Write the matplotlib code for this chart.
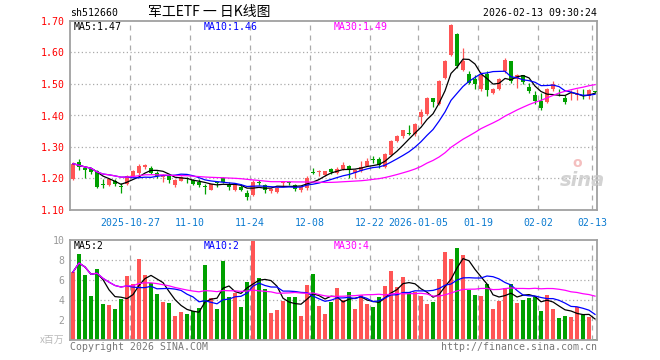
import matplotlib
matplotlib.use('Agg')
import matplotlib.pyplot as plt
import pandas as pd

# daily candles, 2025-10-13 .. 2026-02-13
opens = [1.200, 1.252, 1.232, 1.229, 1.223, 1.182, 1.178, 1.192, 1.175, 1.184,
         1.207, 1.216, 1.237, 1.234, 1.218, 1.205, 1.207, 1.178, 1.193, 1.200,
         1.194, 1.190, 1.175, 1.165, 1.187, 1.201, 1.184, 1.165, 1.174, 1.153,
         1.147, 1.188, 1.178, 1.160, 1.157, 1.185, 1.186, 1.178, 1.165, 1.170,
         1.219, 1.222, 1.210, 1.229, 1.218, 1.230, 1.239, 1.216, 1.223, 1.241,
         1.261, 1.262, 1.237, 1.276, 1.318, 1.334, 1.345, 1.342, 1.395, 1.405,
         1.454, 1.436, 1.520, 1.593, 1.660, 1.546, 1.533, 1.515, 1.483, 1.533,
         1.471, 1.483, 1.541, 1.572, 1.515, 1.527, 1.492, 1.465, 1.447, 1.442,
         1.483, 1.469, 1.457, 1.467, 1.465, 1.466, 1.462, 1.476]
highs = [1.252, 1.263, 1.237, 1.234, 1.228, 1.197, 1.200, 1.199, 1.186, 1.212,
         1.226, 1.245, 1.247, 1.240, 1.225, 1.213, 1.213, 1.197, 1.208, 1.205,
         1.198, 1.197, 1.182, 1.184, 1.190, 1.204, 1.188, 1.182, 1.182, 1.163,
         1.195, 1.195, 1.184, 1.170, 1.172, 1.193, 1.193, 1.182, 1.177, 1.207,
         1.234, 1.228, 1.225, 1.234, 1.236, 1.251, 1.244, 1.230, 1.255, 1.265,
         1.273, 1.268, 1.281, 1.321, 1.339, 1.355, 1.371, 1.376, 1.420, 1.460,
         1.457, 1.512, 1.577, 1.689, 1.662, 1.614, 1.540, 1.527, 1.538, 1.540,
         1.488, 1.520, 1.582, 1.574, 1.533, 1.530, 1.504, 1.478, 1.473, 1.488,
         1.509, 1.483, 1.465, 1.481, 1.485, 1.485, 1.485, 1.478]
lows = [1.195, 1.228, 1.202, 1.213, 1.170, 1.170, 1.175, 1.176, 1.155, 1.180,
        1.205, 1.212, 1.230, 1.213, 1.200, 1.189, 1.186, 1.174, 1.191, 1.187,
        1.178, 1.174, 1.150, 1.162, 1.172, 1.186, 1.165, 1.160, 1.160, 1.133,
        1.144, 1.178, 1.155, 1.155, 1.155, 1.177, 1.178, 1.160, 1.157, 1.165,
        1.213, 1.207, 1.207, 1.214, 1.213, 1.228, 1.202, 1.202, 1.220, 1.241,
        1.250, 1.234, 1.234, 1.273, 1.315, 1.329, 1.337, 1.336, 1.372, 1.400,
        1.426, 1.433, 1.517, 1.590, 1.551, 1.540, 1.499, 1.485, 1.477, 1.462,
        1.468, 1.481, 1.536, 1.504, 1.488, 1.499, 1.473, 1.437, 1.419, 1.440,
        1.478, 1.462, 1.437, 1.450, 1.449, 1.452, 1.451, 1.471]
closes = [1.247, 1.237, 1.226, 1.221, 1.174, 1.180, 1.197, 1.184, 1.173, 1.207,
          1.223, 1.239, 1.244, 1.216, 1.207, 1.208, 1.195, 1.194, 1.205, 1.199,
          1.181, 1.178, 1.174, 1.181, 1.185, 1.190, 1.174, 1.178, 1.165, 1.140,
          1.190, 1.186, 1.165, 1.167, 1.170, 1.187, 1.185, 1.167, 1.173, 1.202,
          1.217, 1.224, 1.223, 1.221, 1.230, 1.244, 1.226, 1.228, 1.237, 1.255,
          1.259, 1.244, 1.279, 1.318, 1.334, 1.353, 1.342, 1.374, 1.410, 1.457,
          1.444, 1.509, 1.572, 1.686, 1.556, 1.572, 1.504, 1.499, 1.530, 1.481,
          1.485, 1.515, 1.577, 1.509, 1.527, 1.506, 1.478, 1.447, 1.423, 1.485,
          1.499, 1.467, 1.444, 1.469, 1.466, 1.464, 1.481, 1.475]
# volume, millions
volumes = [6.8, 8.6, 6.5, 4.4, 7.1, 3.6, 3.5, 3.1, 4.1, 6.4,
           5.6, 8.1, 6.5, 5.7, 4.6, 3.8, 3.7, 2.4, 2.8, 2.6,
           2.9, 3.2, 7.5, 4.2, 3.1, 7.9, 4.3, 4.7, 3.3, 5.8,
           9.9, 6.2, 5.1, 2.7, 3.0, 3.9, 4.3, 4.3, 2.4, 5.5,
           6.6, 3.4, 2.6, 3.8, 5.2, 4.0, 4.8, 3.1, 4.5, 3.6,
           3.3, 4.3, 5.4, 6.9, 5.3, 6.3, 4.8, 4.8, 4.4, 3.6,
           3.8, 6.1, 8.8, 8.1, 9.2, 8.5, 5.0, 4.5, 4.4, 5.6,
           3.1, 3.9, 5.2, 5.6, 3.7, 4.0, 4.2, 4.3, 2.9, 4.5,
           3.1, 2.2, 2.4, 2.3, 3.3, 2.5, 2.3, 0.1]

date_ticks = [10, 20, 30, 40, 50, 58, 68, 78, 87]
date_labels = ['2025-10-27', '11-10', '11-24', '12-08', '12-22',
               '2026-01-05', '01-19', '02-02', '02-13']
price_ticks = [1.10, 1.20, 1.30, 1.40, 1.50, 1.60, 1.70]
vol_ticks = [2, 4, 6, 8, 10]

RED = '#ff5555'
GREEN = '#00a000'
FRAME = '#a0a0a0'
MONO = 'DejaVu Sans Mono'
FS = 7.1

n = len(closes)
xs = list(range(n))
cols = [RED if c >= o else GREEN for o, c in zip(opens, closes)]

cs = pd.Series(closes)
vs = pd.Series(volumes)

fig = plt.figure(figsize=(6.6, 3.6), dpi=100)
W, H = 660.0, 360.0
ax1 = fig.add_axes([70 / W, 150 / H, 527 / W, 189 / H])
ax2 = fig.add_axes([70 / W, 20 / H, 527 / W, 100 / H])

for ax in (ax1, ax2):
    ax.set_xlim(-0.5, 87.33)
    for s in ax.spines.values():
        s.set_color(FRAME)
        s.set_linewidth(1.3)
    for t in date_ticks:
        ax.axvline(t - 0.5, color='#aaaaaa', lw=0.9, ls=(0, (4, 4)), zorder=0)

# price panel
ax1.set_ylim(1.10, 1.70)
for p in price_ticks[1:-1]:
    ax1.axhline(p, color='#aaaaaa', lw=0.9, ls=(0, (1, 2)), zorder=0)
ax1.vlines(xs, lows, highs, colors=cols, lw=0.9, zorder=2)
bottoms = [min(o, c) for o, c in zip(opens, closes)]
heights = [max(abs(c - o), 0.0025) for o, c in zip(opens, closes)]
ax1.bar(xs, heights, bottom=bottoms, width=0.82, color=cols, lw=0, zorder=3)
ax1.plot(xs, cs.rolling(5, min_periods=1).mean(), color='black', lw=0.9, zorder=4)
ax1.plot(xs, cs.rolling(10, min_periods=1).mean(), color='#0000ff', lw=0.9, zorder=4)
ax1.plot(xs, cs.rolling(30, min_periods=1).mean(), color='#ff00ff', lw=0.9, zorder=4)
ax1.set_yticks(price_ticks)
ax1.set_yticklabels(['%.2f' % p for p in price_ticks], fontfamily=MONO,
                    fontsize=FS, color='red')
ax1.set_xticks([t - 0.5 for t in date_ticks])
ax1.set_xticklabels(date_labels, fontfamily=MONO, fontsize=FS, color='#0a7ad0')
ax1.tick_params(length=0, pad=4)
ax1.tick_params(axis='x', pad=6)

# volume panel
ax2.set_ylim(0, 10)
for v in vol_ticks[:-1]:
    ax2.axhline(v, color='#aaaaaa', lw=0.9, ls=(0, (1, 2)), zorder=0)
ax2.bar(xs, volumes, width=0.82, color=cols, lw=0, zorder=2)
ax2.plot(xs, vs.rolling(5, min_periods=1).mean(), color='black', lw=0.9, zorder=4)
ax2.plot(xs, vs.rolling(10, min_periods=1).mean(), color='#0000ff', lw=0.9, zorder=4)
ax2.plot(xs, vs.rolling(30, min_periods=1).mean(), color='#ff00ff', lw=0.9, zorder=4)
ax2.set_yticks(vol_ticks)
ax2.set_yticklabels([str(v) for v in vol_ticks], fontfamily=MONO,
                    fontsize=FS, color='#999999')
ax2.set_xticks([])
ax2.tick_params(length=0, pad=4)


def txt(x, y, s, **kw):
    kw.setdefault('fontfamily', MONO)
    kw.setdefault('fontsize', FS)
    kw.setdefault('va', 'center')
    fig.text(x / W, 1 - y / H, s, **kw)


txt(70, 13, 'sh512660')
txt(209, 12, '军工ETF 一 日K线图', ha='center', fontsize=10,
    fontfamily=['Noto Sans CJK SC', 'DejaVu Sans'])
txt(597, 13, '2026-02-13 09:30:24', ha='right')
txt(74, 27, 'MA5:1.47', color='black')
txt(204, 27, 'MA10:1.46', color='#0000ff')
txt(334, 27, 'MA30:1.49', color='#ff00ff')
txt(74, 246, 'MA5:2', color='black')
txt(204, 246, 'MA10:2', color='#0000ff')
txt(334, 246, 'MA30:4', color='#ff00ff')
txt(64, 340, 'x百万', ha='right', color='#bbbbbb',
    fontfamily=['Noto Sans CJK SC', 'DejaVu Sans'])
txt(70, 347, 'Copyright 2026 SINA.COM', color='#777777')
txt(597, 347, 'http://finance.sina.com.cn', ha='right', color='#777777')
txt(582, 180, 'sina', ha='center', color='#c8c8c8', fontsize=14,
    fontweight='bold', style='italic', fontfamily='DejaVu Sans', alpha=0.8)
txt(577, 163, 'o', ha='center', color='#f2b0b0', fontsize=10,
    fontweight='bold', fontfamily='DejaVu Sans', alpha=0.8)

fig.savefig('out.png', dpi=100)
